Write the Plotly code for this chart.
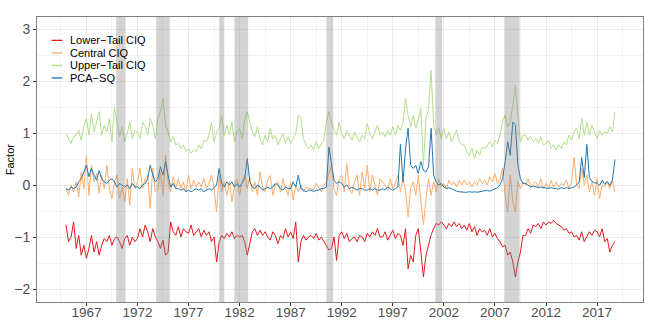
import pandas as pd
import plotly.graph_objects as go

# quarterly readings, 1965Q1 .. 2018Q4
dates = pd.date_range("1965-01-01", periods=216, freq="QS")

lower_tail = [
    -0.76, -1.08, -0.99, -0.70, -1.21, -0.96, -1.34, -1.15, -1.40, -1.21, -0.96, -1.28,
    -1.08, -1.34, -1.15, -1.02, -1.08, -0.96, -1.15, -1.02, -0.99, -1.08, -1.21, -1.02,
    -0.96, -1.15, -0.99, -1.08, -1.02, -0.83, -0.99, -0.76, -0.89, -1.08, -0.83, -0.99,
    -1.08, -1.21, -1.05, -1.34, -1.28, -0.70, -0.89, -0.96, -0.79, -0.99, -0.83, -0.89,
    -0.92, -0.76, -0.96, -0.89, -0.83, -0.99, -0.86, -0.96, -0.89, -1.08, -0.99, -1.47,
    -1.08, -0.96, -1.02, -0.92, -0.99, -0.89, -1.02, -0.96, -0.99, -0.96, -1.08, -1.34,
    -1.08, -0.89, -0.83, -0.96, -0.86, -0.96, -0.89, -0.99, -1.05, -0.89, -0.96, -1.12,
    -0.96, -1.02, -0.83, -0.99, -0.89, -1.02, -0.70, -1.47, -1.08, -0.96, -1.05, -0.99,
    -0.96, -1.02, -0.92, -1.05, -0.99, -1.08, -1.15, -1.24, -1.21, -0.99, -1.44, -0.96,
    -0.89, -1.02, -0.92, -1.08, -1.02, -0.99, -1.08, -0.96, -0.99, -1.08, -0.92, -0.99,
    -0.89, -0.96, -0.83, -0.99, -0.99, -0.89, -1.05, -0.96, -0.86, -1.02, -0.92, -0.96,
    -1.15, -0.83, -1.60, -1.34, -1.47, -0.96, -0.83, -1.28, -1.76, -1.34, -1.15, -0.95,
    -0.83, -0.73, -0.76, -0.70, -0.76, -0.83, -0.73, -0.79, -0.70, -0.79, -0.73, -0.83,
    -0.76, -0.86, -0.73, -0.89, -0.79, -0.96, -0.83, -0.89, -0.86, -0.96, -0.83, -0.99,
    -0.92, -1.02, -1.08, -1.18, -1.15, -1.34, -1.28, -1.47, -1.76, -1.47, -1.28, -0.96,
    -0.96, -0.83, -0.92, -0.76, -0.79, -0.73, -0.83, -0.70, -0.76, -0.70, -0.73, -0.67,
    -0.73, -0.76, -0.79, -0.86, -0.83, -0.92, -0.89, -0.99, -0.96, -1.05, -0.89, -1.08,
    -0.99, -0.89, -0.96, -0.86, -0.89, -0.99, -0.83, -1.08, -1.02, -1.28, -1.15, -1.08,
]

central = [
    -0.06, -0.19, 0.01, -0.12, 0.07, -0.22, 0.26, -0.06, 0.58, -0.19, 0.39, 0.07,
    0.23, -0.15, 0.20, -0.06, 0.39, -0.06, -0.25, 0.07, 0.20, -0.25, -0.03, -0.31,
    0.13, -0.38, 0.33, -0.06, 0.07, 0.33, -0.06, 0.13, 0.20, -0.44, 0.33, -0.12,
    -0.06, 0.26, -0.19, 0.58, 0.07, -0.12, 0.17, -0.06, 0.13, -0.06, 0.07, -0.12,
    0.20, -0.06, 0.10, -0.03, 0.07, -0.03, 0.13, -0.06, 0.04, 0.20, -0.03, -0.51,
    0.20, -0.12, 0.07, -0.19, 0.07, -0.31, 0.01, 0.13, -0.19, 0.07, 0.20, -0.06,
    0.17, -0.12, 0.07, -0.19, 0.26, -0.03, -0.12, 0.10, 0.20, -0.19, 0.01, 0.07,
    -0.12, 0.13, -0.06, -0.19, 0.07, -0.28, 0.01, -0.12, 0.01, -0.12, -0.03, -0.06,
    -0.06, -0.09, 0.04, -0.03, -0.12, 0.01, 0.07, 0.23, 0.39, -0.06, -0.19, 0.13,
    0.20, -0.12, 0.42, -0.06, -0.15, 0.07, 0.20, -0.19, 0.26, -0.06, 0.39, -0.12,
    0.20, 0.01, -0.19, 0.13, 0.07, 0.01, -0.09, 0.13, -0.06, 0.04, 0.20, -0.12,
    0.13, -0.12, -0.60, -0.06, 0.07, -0.19, 0.20, -0.25, -0.76, -0.25, 0.13, -0.19,
    0.07, -0.12, 0.13, -0.03, 0.04, -0.06, 0.10, 0.01, 0.07, -0.03, 0.10, 0.01,
    0.10, 0.01, 0.07, -0.03, 0.07, 0.01, 0.13, 0.04, 0.10, 0.01, 0.17, 0.07,
    0.23, 0.04, 0.13, 0.33, -0.19, -0.51, 0.20, -0.31, -0.51, 0.07, -0.06, 0.07,
    0.01, 0.13, -0.03, 0.04, 0.07, -0.03, 0.13, -0.06, 0.04, -0.06, 0.10, -0.03,
    0.07, -0.03, 0.04, 0.01, 0.10, -0.06, 0.07, 0.54, 0.01, -0.06, 0.33, 0.01,
    0.20, -0.12, 0.07, -0.19, 0.13, -0.25, 0.01, -0.03, 0.07, -0.06, 0.10, -0.12,
]

upper_tail = [
    1.00, 0.90, 0.81, 0.94, 0.97, 1.06, 0.87, 1.13, 1.29, 0.97, 1.38, 1.03,
    1.22, 1.42, 0.97, 1.16, 1.03, 1.29, 0.84, 1.51, 1.22, 0.94, 1.13, 0.84,
    1.00, 1.22, 0.90, 1.06, 1.03, 0.90, 1.22, 1.13, 0.97, 1.29, 1.16, 0.90,
    1.29, 1.42, 1.67, 1.16, 1.03, 0.84, 0.94, 0.78, 0.81, 0.71, 0.78, 0.65,
    0.71, 0.62, 0.68, 0.65, 0.78, 0.71, 0.87, 0.84, 0.97, 1.22, 0.84, 1.03,
    1.10, 1.35, 0.97, 1.16, 0.97, 1.22, 0.84, 1.03, 1.10, 0.90, 1.26, 1.42,
    1.22, 1.03, 0.94, 1.13, 0.90, 0.78, 0.97, 0.84, 1.10, 0.90, 0.97, 0.78,
    0.90, 1.00, 0.81, 0.94, 0.81, 0.90, 1.00, 1.35, 1.29, 0.90, 0.78, 0.71,
    0.78, 0.68, 0.84, 0.71, 0.78, 0.87, 1.22, 1.42, 1.22, 1.06, 0.97, 1.22,
    1.00, 0.90, 1.06, 0.97, 0.87, 1.03, 0.94, 0.84, 0.97, 0.90, 1.19, 1.00,
    0.90, 1.03, 1.16, 0.97, 1.03, 0.94, 1.06, 0.97, 1.13, 0.97, 1.16, 1.06,
    1.22, 1.67, 1.35, 1.13, 1.35, 1.10, 1.26, 1.48, 0.39, 1.29, 1.48, 2.22,
    1.16, 0.97, 1.10, 0.90, 1.10, 0.90, 1.03, 0.84, 0.97, 1.06, 0.84, 0.78,
    0.78, 0.65, 0.58, 0.71, 0.52, 0.68, 0.58, 0.74, 0.71, 0.78, 0.84, 0.74,
    0.87, 0.81, 0.97, 1.22, 1.35, 1.13, 1.22, 1.54, 1.92, 1.35, 0.84, 0.97,
    0.97, 0.87, 0.94, 0.84, 0.90, 0.81, 0.94, 0.78, 0.81, 0.87, 0.71, 0.78,
    0.68, 0.78, 0.71, 0.84, 0.78, 0.97, 0.87, 1.03, 1.10, 0.90, 1.29, 0.97,
    1.22, 0.97, 1.16, 1.03, 0.90, 1.06, 0.97, 1.03, 1.00, 1.13, 1.03, 1.42,
]

pca_sq = [
    -0.06, -0.09, -0.03, -0.06, -0.03, 0.07, 0.13, 0.26, 0.39, 0.17, 0.33, 0.20,
    0.10, 0.29, 0.13, 0.07, 0.04, 0.10, 0.13, 0.07, -0.03, 0.04, 0.01, -0.03,
    0.01, -0.06, 0.04, -0.03, -0.03, -0.06, 0.01, 0.04, 0.13, 0.39, 0.20, 0.07,
    0.13, 0.36, 0.20, 0.46, 0.20, -0.03, 0.04, -0.06, -0.06, -0.09, -0.06, -0.12,
    -0.09, -0.12, -0.09, -0.06, -0.09, -0.06, -0.12, -0.09, -0.06, -0.09, -0.03, 0.01,
    0.33, 0.04, -0.03, 0.07, 0.01, 0.07, -0.03, 0.04, -0.03, 0.04, 0.13, 0.52,
    0.07, -0.03, -0.06, 0.01, -0.03, -0.09, -0.06, -0.03, -0.06, -0.03, 0.04, 0.01,
    -0.06, -0.09, -0.03, -0.06, -0.06, 0.07, -0.03, 0.20, -0.06, -0.09, -0.12, -0.09,
    -0.09, -0.12, -0.09, -0.09, -0.06, -0.06, -0.03, 0.74, 0.39, 0.10, 0.04, 0.07,
    0.04, -0.03, 0.01, -0.06, -0.03, -0.06, -0.09, -0.06, -0.06, -0.09, -0.09, -0.06,
    -0.09, -0.06, -0.09, -0.09, -0.06, -0.09, -0.03, -0.06, -0.09, -0.06, -0.03, 0.79,
    0.07, 0.71, 1.10, 0.39, 0.33, 0.39, 0.23, 0.46, 0.29, 0.26, 0.36, 1.10,
    0.20, 0.07, 0.01, 0.04, -0.03, -0.06, -0.04, -0.06, -0.09, -0.11, -0.12, -0.13,
    -0.13, -0.13, -0.12, -0.13, -0.12, -0.13, -0.12, -0.11, -0.11, -0.09, -0.11, -0.09,
    -0.07, -0.04, 0.01, 0.13, 0.46, 0.84, 0.58, 1.22, 1.16, 0.39, 0.13, 0.04,
    0.04, 0.01, -0.03, -0.01, -0.03, -0.04, -0.03, -0.04, -0.04, -0.06, -0.04, -0.06,
    -0.06, -0.07, -0.04, -0.06, -0.04, -0.06, -0.04, -0.03, 0.01, 0.07, 0.54, 0.15,
    0.79, 0.15, 0.08, 0.05, 0.05, 0.00, 0.10, 0.02, 0.08, 0.00, 0.10, 0.50,
]

names = ["Lower\u2212Tail CIQ", "Central CIQ", "Upper\u2212Tail CIQ", "PCA\u2212SQ"]
colors = ["#e31a1c", "#fdae6b", "#b2df8a", "#1f78b4"]
series = [lower_tail, central, upper_tail, pca_sq]

# NBER recessions
rec_start = ["1969-12-01", "1973-11-01", "1980-01-01", "1981-07-01", "1990-07-01", "2001-03-01", "2007-12-01"]
rec_end = ["1970-11-01", "1975-03-01", "1980-07-01", "1982-11-01", "1991-03-01", "2001-11-01", "2009-06-01"]

tick_years = list(range(1967, 2018, 5))

fig = go.Figure()
for nm, col, vals in zip(names, colors, series):
    fig.add_trace(go.Scatter(x=dates, y=vals, mode="lines", name=nm,
                             line=dict(color=col, width=1), showlegend=False))

# white legend box, between grid and traces
fig.add_shape(type="rect", xref="paper", yref="paper", x0=0.008, x1=0.19, y0=0.79, y1=0.985,
              fillcolor="white", line_width=0, layer="between")

for s, e in zip(rec_start, rec_end):
    fig.add_shape(type="rect", xref="x", yref="paper", x0=s, x1=e, y0=0, y1=1,
                  fillcolor="rgba(128,128,128,0.35)", line_width=0, layer="above")

# hand-made legend so the rows sit tight like the original
row_y = [0.918, 0.874, 0.830, 0.786]
for i, (nm, col) in enumerate(zip(names, colors)):
    ry = row_y[i]
    fig.add_shape(type="line", xref="paper", yref="paper", x0=0.024, x1=0.042, y0=ry, y1=ry,
                  line=dict(color=col, width=1.3), layer="above")
    fig.add_annotation(xref="paper", yref="paper", x=0.051, y=ry, text=nm, showarrow=False,
                       xanchor="left", yanchor="middle", font=dict(size=11, color="black"))

fig.add_annotation(xref="paper", yref="paper", x=-0.045, y=0.5, text="Factor", showarrow=False,
                   textangle=-90, xanchor="center", yanchor="middle", font=dict(size=11, color="black"))

fig.update_layout(
    width=648, height=324,
    margin=dict(l=37, r=5, t=17, b=22, autoexpand=False),
    plot_bgcolor="white", paper_bgcolor="white",
    font=dict(family="Liberation Sans"),
    showlegend=False,
)
fig.update_xaxes(
    automargin=False,
    range=["1962-03-01", "2021-07-01"],
    tickvals=[f"{y}-01-01" for y in tick_years], ticktext=[str(y) for y in tick_years],
    tickfont=dict(size=13.5, color="#4d4d4d"), ticklabelstandoff=-5,
    ticks="outside", ticklen=3, tickcolor="#333333",
    showgrid=True, gridcolor="#ebebeb", gridwidth=1,
    minor=dict(tick0="1964-07-01", dtick="M60", showgrid=True, gridcolor="#f3f3f3", gridwidth=0.6),
    showline=True, linecolor="#7f7f7f", linewidth=1, mirror=True, zeroline=False,
)
fig.update_yaxes(
    automargin=False,
    range=[-2.24, 3.24], tickvals=[-2, -1, 0, 1, 2, 3], ticktext=["\u22122", "\u22121", "0", "1", "2", "3"],
    tickfont=dict(size=14, color="#4d4d4d"),
    ticks="outside", ticklen=3, tickcolor="#333333",
    showgrid=True, gridcolor="#ebebeb", gridwidth=1,
    minor=dict(tick0=-2.5, dtick=0.5, showgrid=True, gridcolor="#f3f3f3", gridwidth=0.6),
    showline=True, linecolor="#7f7f7f", linewidth=1, mirror=True, zeroline=False,
)

# the page's default body margin would shift the whole figure by 8px
fig.write_html("out.html", config={"displayModeBar": False},
               post_script="document.body.style.margin='0';")
